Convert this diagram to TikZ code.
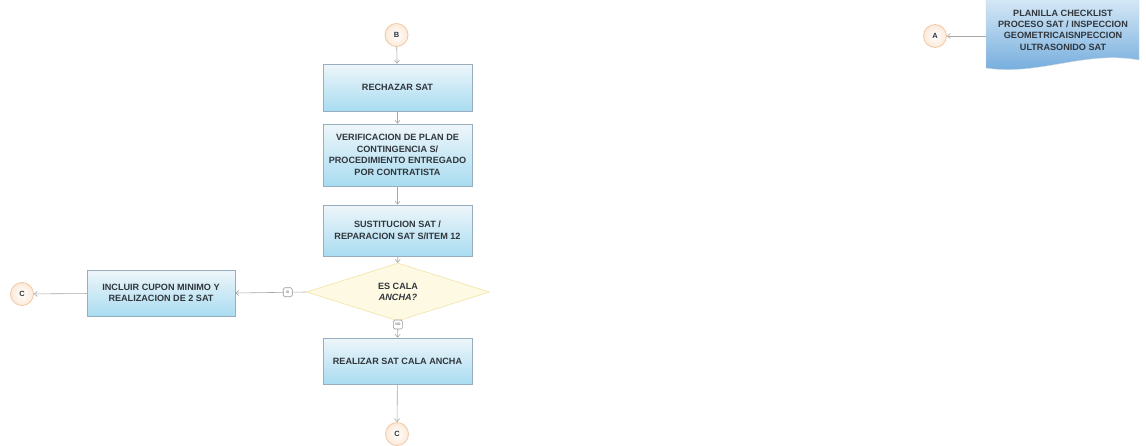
\documentclass[tikz,border=0pt]{standalone}
\usepackage{fontspec}
\setmainfont{Liberation Sans}
\usetikzlibrary{arrows.meta,shapes.geometric}
\definecolor{txt}{HTML}{30363C}
\definecolor{boxtop}{HTML}{EEF6FA}
\definecolor{boxbot}{HTML}{A9DCF1}
\definecolor{boxline}{HTML}{98AEBE}
\definecolor{circfill}{HTML}{FCE9D8}
\definecolor{circline}{HTML}{F0C9A6}
\definecolor{diafill}{HTML}{FDF9E2}
\definecolor{dialine}{HTML}{F2E4A6}
\definecolor{conn}{HTML}{A8A8A8}
\definecolor{doctop}{HTML}{D6E9F6}
\definecolor{docbot}{HTML}{6FA9DB}
\tikzset{
  procbox/.style={rectangle, draw=boxline, line width=0.6pt, top color=boxtop, bottom color=boxbot,
    minimum width=149pt, align=center, text=txt, font=\fontsize{9.1}{11.5}\selectfont\bfseries, inner sep=2pt},
  conncirc/.style={circle, draw=circline, line width=0.8pt, inner color=white, outer color=circfill,
    minimum size=23pt, inner sep=0pt, text=txt, font=\fontsize{7.5}{8}\selectfont\bfseries},
  decision/.style={diamond, draw=dialine, line width=0.6pt, fill=diafill, minimum width=183pt,
    minimum height=46pt, inner sep=0pt, align=center, text=txt, font=\fontsize{9.1}{11.5}\selectfont\bfseries},
  flow/.style={draw=conn, line width=0.6pt, -{Straight Barb[length=3pt,width=5pt]}},
  tag/.style={rectangle, rounded corners=1.5pt, draw=gray!80, fill=white, line width=0.6pt,
    inner sep=0.8pt, minimum size=9pt, font=\fontsize{3.5}{3.5}\selectfont\bfseries, text=gray}
}
\begin{document}
\begin{tikzpicture}[x=1pt,y=-1pt]
\useasboundingbox (0,0) rectangle (1146,445);
\clip (0,0) rectangle (1146,445);
\fill[white] (0,0) rectangle (1146,445);

% document shape
\shade[top color=doctop, bottom color=docbot, draw=boxline!50, line width=0.4pt]
  (986,-2) -- (1139,-2) -- (1139,60) .. controls (1085,50) and (1040,76) .. (986,68) -- cycle;
\node[text=txt, font=\fontsize{9.1}{11.3}\selectfont\bfseries, align=center] (doc) at (1063,30)
  {PLANILLA CHECKLIST\\PROCESO SAT / INSPECCION\\GEOMETRICAISNPECCION\\ULTRASONIDO SAT};
\coordinate (docleft) at (986,36);
\node[conncirc] (A) at (935,36) {A};

% main column
\node[conncirc] (B) at (396.5,35) {B};
\node[procbox, minimum height=47pt] (rech) at (397.5,87.5) {RECHAZAR SAT};
\node[procbox, minimum height=62pt] (verif) at (397.5,155)
  {VERIFICACION DE PLAN DE\\CONTINGENCIA S/\\PROCEDIMIENTO ENTREGADO\\POR CONTRATISTA};
\node[procbox, minimum height=51pt] (sust) at (397.5,230.5) {SUSTITUCION SAT /\\REPARACION SAT S/ITEM 12};
\node[decision] (dec) at (398,292) {ES CALA\\\textit{ANCHA?}};
\node[procbox, minimum height=46pt] (real) at (397.5,361) {REALIZAR SAT CALA ANCHA};
\node[conncirc] (Cb) at (397,434) {C};

% left branch
\node[procbox, minimum width=148pt, minimum height=46pt] (incl) at (161,293)
  {INCLUIR CUPON MINIMO Y\\REALIZACION DE 2 SAT};
\node[conncirc] (Cl) at (22,294) {C};

% connectors
\draw[flow] (docleft) -- (A);
\draw[flow] (B) -- (rech);
\draw[flow] (rech) -- (verif);
\draw[flow] (verif) -- (sust);
\draw[flow] (sust) -- (dec);
\draw[flow] (dec.west) -- node[tag, pos=0.26] (si) {SI} (incl.east);
\draw[flow] (incl) -- (Cl);
\draw[flow] (dec.south) -- node[tag, pos=0.2] (no) {NO} (real.north);
\draw[flow] (real) -- (Cb);
\end{tikzpicture}
\end{document}
